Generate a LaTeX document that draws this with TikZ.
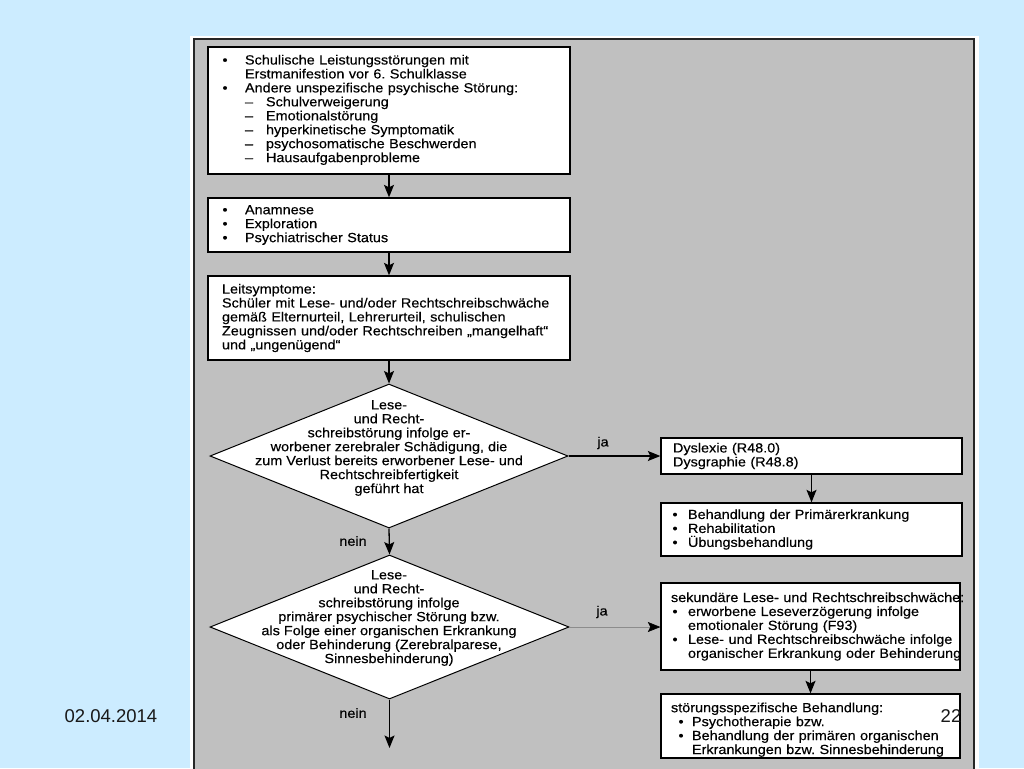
\documentclass[tikz,border=0pt]{standalone}
\usepackage{fontspec}
\setmainfont{Liberation Sans}
\newfontfamily\diagfont[FakeStretch=1.085,FakeBold=0.3]{Liberation Sans}
\usetikzlibrary{shapes.geometric,arrows.meta}
\definecolor{bgblue}{RGB}{204,236,255}
\definecolor{panelgray}{RGB}{192,192,192}
\newcommand\diagtext{\diagfont\fontsize{13.3}{13.95}\selectfont\lineskiplimit=-20pt\frenchspacing}
\newcommand\bul[2][0pt]{\hspace*{#1}\hspace*{-2.5pt}\makebox[\dimexpr#2+2.5pt\relax][l]{\textbullet}}
\newcommand\hang[1]{\hspace*{#1}}
\newcommand\Ln[1]{\mbox{#1}}
\frenchspacing
\begin{document}
\begin{tikzpicture}[x=1pt,y=-1pt,
  box/.style={draw=black,line width=1.3pt,fill=white,rectangle,inner ysep=0pt,align=left,font=\diagtext},
  dia/.style={draw=black,line width=1pt,fill=white,diamond,inner sep=0pt},
  diatext/.style={align=center,font=\diagtext,inner sep=0pt},
  lab/.style={font=\diagtext,inner sep=0pt},
  arr/.style={line width=1.3pt,-{Stealth[length=12.5pt,width=10pt,inset=2.5pt]}},
  arrthin/.style={line width=0.6pt,draw=black!45,-{Stealth[length=12.5pt,width=10pt,inset=2.5pt,color=black]}},
  slide/.style={font=\fontsize{18.5}{20}\selectfont,text=black!90,inner sep=0pt},
]
\useasboundingbox (0,0) rectangle (1024,768);
\fill[bgblue] (0,0) rectangle (1024,768);
\fill[white] (190,36) rectangle (979,770);
\draw[line width=2pt,draw=black!85,fill=panelgray] (194,39) rectangle (974,772);

% boxes
\node[box,minimum width=362pt,minimum height=127pt,text width=328pt,inner xsep=17pt] (b1) at (389,110.5)
{\Ln{\bul{20pt}Schulische Leistungsstörungen mit}\\
\Ln{\hang{20pt}Erstmanifestion vor 6. Schulklasse}\\
\Ln{\bul{20pt}Andere unspezifische psychische Störung:}\\
\Ln{\hang{20pt}–\hang{13pt}Schulverweigerung}\\
\Ln{\hang{20pt}–\hang{13pt}Emotionalstörung}\\
\Ln{\hang{20pt}–\hang{13pt}hyperkinetische Symptomatik}\\
\Ln{\hang{20pt}–\hang{13pt}psychosomatische Beschwerden}\\
\Ln{\hang{20pt}–\hang{13pt}Hausaufgabenprobleme\rule[-4pt]{0pt}{1pt}}};

\node[box,minimum width=362pt,minimum height=54pt,text width=328pt,inner xsep=17pt] (b2) at (389,225)
{\Ln{\bul{20pt}Anamnese}\\
\Ln{\bul{20pt}Exploration}\\
\Ln{\bul{20pt}Psychiatrischer Status}};

\node[box,minimum width=362pt,minimum height=84pt,text width=334pt,inner xsep=14pt] (b3) at (389,318)
{\Ln{Leitsymptome:}\\
\Ln{Schüler mit Lese- und/oder Rechtschreibschwäche}\\
\Ln{gemäß Elternurteil, Lehrerurteil, schulischen}\\
\Ln{Zeugnissen und/oder Rechtschreiben „mangelhaft“}\\
\Ln{und „ungenügend“}};

% diamonds
\node[dia,minimum width=358pt,minimum height=144pt] (d1) at (389,456) {};
\node[diatext] (d1t) at (389,448) {Lese-\\und Recht-\\schreibstörung infolge er-\\worbener zerebraler Schädigung, die\\zum Verlust bereits erworbener Lese- und\\Rechtschreibfertigkeit\\geführt hat};

\node[dia,minimum width=359pt,minimum height=144pt] (d2) at (389.5,627) {};
\node[diatext] (d2t) at (389,618) {Lese-\\und Recht-\\schreibstörung infolge\\primärer psychischer Störung bzw.\\als Folge einer organischen Erkrankung\\oder Behinderung (Zerebralparese,\\Sinnesbehinderung)};

% right boxes
\node[box,minimum width=301pt,minimum height=36pt,text width=277pt,inner xsep=12pt] (b4) at (811.5,456)
{\Ln{Dyslexie (R48.0)}\\
\Ln{Dysgraphie (R48.8)}};

\node[box,minimum width=301pt,minimum height=53pt,text width=273pt,inner xsep=14pt] (b5) at (811.5,529.5)
{\Ln{\bul{13pt}Behandlung der Primärerkrankung}\\
\Ln{\bul{13pt}Rehabilitation}\\
\Ln{\bul{13pt}Übungsbehandlung}};

\node[box,minimum width=299pt,minimum height=87pt,text width=279pt,inner xsep=10pt] (b6) at (810.5,626.5)
{\Ln{sekundäre Lese- und Rechtschreibschwäche:}\\
\Ln{\bul[4pt]{13pt}erworbene Leseverzögerung infolge}\\
\Ln{\hang{17pt}emotionaler Störung (F93)}\\
\Ln{\bul[4pt]{13pt}Lese- und Rechtschreibschwäche infolge}\\
\Ln{\hang{17pt}organischer Erkrankung oder Behinderung}};

\node[box,minimum width=299pt,minimum height=64pt,text width=279pt,inner xsep=10pt] (b7) at (810.5,726)
{\Ln{\rule{0pt}{17pt}störungsspezifische Behandlung:}\\
\Ln{\bul[10pt]{11pt}Psychotherapie bzw.}\\
\Ln{\bul[10pt]{11pt}Behandlung der primären organischen}\\
\Ln{\hang{21pt}Erkrankungen bzw. Sinnesbehinderung}};

% connectors
\coordinate (end) at (389.5,748);
\draw[arr] (b1.south) -- (b2.north);
\draw[arr] (b2.south) -- (b3.north);
\draw[arr] (b3.south) -- (d1.north);
\draw[arr] (d1.south) -- (d2.north);
\draw[arr] (d1.east) -- (b4.west);
\draw[arr] (b4.south) -- (b5.north);
\draw[arrthin] (d2.east) -- (d2.east -| b6.west);
\draw[arr] (b6.south) -- (b7.north);
\draw[arr] (d2.south) -- (end);

% labels
\node[lab] (ja1) at (603,443) {ja};
\node[lab] (ja2) at (602,612) {ja};
\node[lab] (nein1) at (353,541) {nein};
\node[lab] (nein2) at (353,713) {nein};

\node[slide] (date) at (111,716) {02.04.2014};
\node[slide] (page) at (951,716) {22};
\end{tikzpicture}
\end{document}
